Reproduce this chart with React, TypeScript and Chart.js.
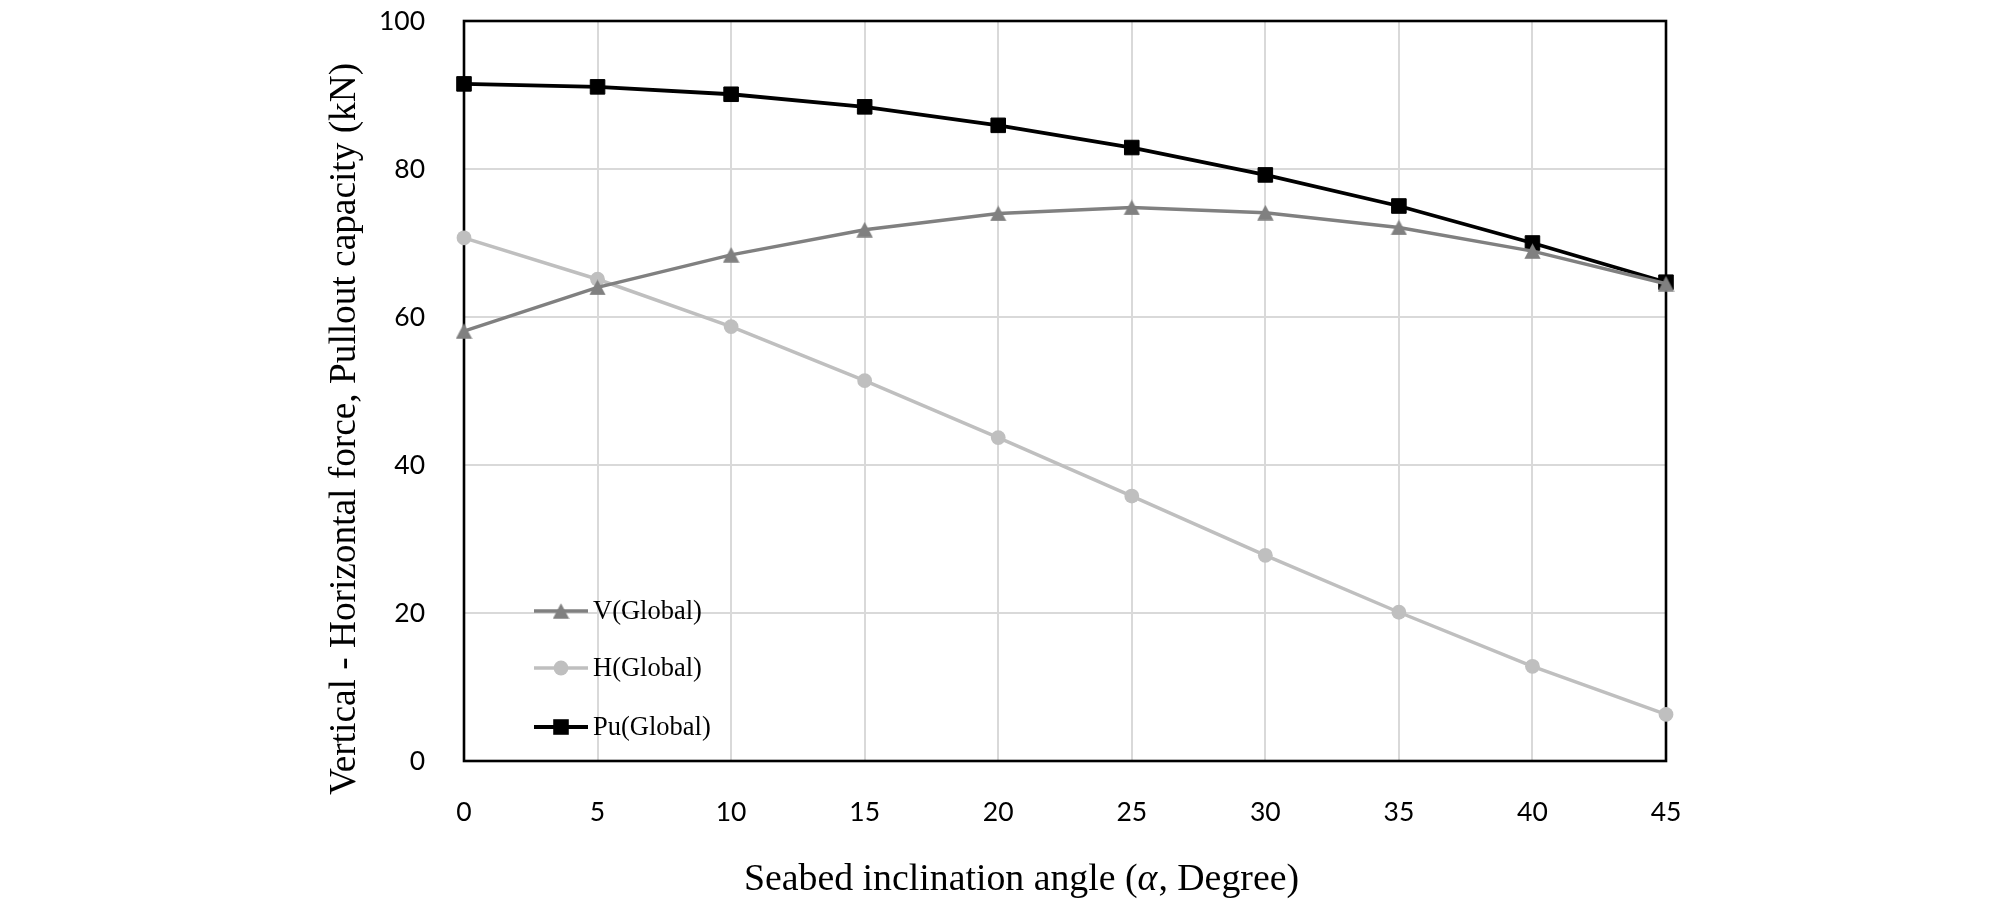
import React, { useEffect, useRef } from 'react';
import { Chart, registerables } from 'chart.js';

Chart.register(...registerables);

// ---- data ----
const angles = [0, 5, 10, 15, 20, 25, 30, 35, 40, 45];
const vGlobal = [58.1, 64.0, 68.4, 71.8, 74.0, 74.8, 74.1, 72.1, 68.9, 64.5];
const hGlobal = [70.7, 65.1, 58.7, 51.4, 43.7, 35.8, 27.8, 20.1, 12.8, 6.3];
const puGlobal = [91.5, 91.1, 90.1, 88.4, 85.9, 82.9, 79.2, 75.0, 70.0, 64.7];
const seriesNames = ['V(Global)', 'H(Global)', 'Pu(Global)'];
const xTickValues = [0, 5, 10, 15, 20, 25, 30, 35, 40, 45];
const yTickValues = [0, 20, 40, 60, 80, 100];
const xTitleParts = ['Seabed inclination angle (', 'α', ', Degree)'];
const yTitleText = 'Vertical - Horizontal force, Pullout capacity (kN)';

const SERIF = "'Liberation Serif', 'Times New Roman', serif";
const SANS = "Lato, 'Open Sans', sans-serif";

function makeTriangle(color: string) {
  const c = document.createElement('canvas');
  c.width = 17;
  c.height = 16;
  const g = c.getContext('2d')!;
  g.fillStyle = color;
  g.beginPath();
  g.moveTo(8.5, 0.3);
  g.lineTo(16.7, 15.7);
  g.lineTo(0.3, 15.7);
  g.closePath();
  g.fill();
  return c;
}

export default function App() {
  const ref = useRef<HTMLCanvasElement | null>(null);

  useEffect(() => {
    if (!ref.current) return;
    const tri = makeTriangle('#808080');

    const toPts = (arr: number[]) => angles.map((a, i) => ({ x: a, y: arr[i] }));

    const framePlugin = {
      id: 'frame',
      beforeDatasetsDraw(chart: any) {
        const { ctx, chartArea: a } = chart;
        ctx.save();
        ctx.strokeStyle = '#000';
        ctx.lineWidth = 2.6;
        ctx.strokeRect(a.left, a.top, a.right - a.left, a.bottom - a.top);
        ctx.restore();
      },
    };

    const titlesPlugin = {
      id: 'titles',
      afterDraw(chart: any) {
        const { ctx, chartArea: a } = chart;
        ctx.save();
        ctx.fillStyle = '#000';
        ctx.textBaseline = 'alphabetic';
        ctx.textAlign = 'left';
        // x title
        let x = a.left + 280;
        const y = a.bottom + 129;
        xTitleParts.forEach((p, i) => {
          ctx.font = (i === 1 ? 'italic ' : '') + '37.8px ' + SERIF;
          ctx.fillText(p, x, y);
          x += ctx.measureText(p).width + (i === 1 ? 1 : 0);
        });
        // y title
        ctx.font = '37.3px ' + SERIF;
        ctx.translate(a.left - 109, (a.top + a.bottom) / 2 + 38);
        ctx.rotate(-Math.PI / 2);
        ctx.textAlign = 'center';
        ctx.fillText(yTitleText, 0, 0);
        ctx.restore();
      },
    };

    const legendPlugin = {
      id: 'innerLegend',
      afterDatasetsDraw(chart: any) {
        const { ctx, chartArea: a } = chart;
        const x0 = a.left + 70;
        const x1 = a.left + 124;
        const tx = a.left + 129;
        const rows = [a.bottom - 150, a.bottom - 93, a.bottom - 34];
        ctx.save();
        chart.data.datasets.forEach((ds: any, i: number) => {
          const yy = rows[i];
          ctx.strokeStyle = ds.borderColor;
          ctx.lineWidth = ds.borderWidth;
          ctx.beginPath();
          ctx.moveTo(x0, yy);
          ctx.lineTo(x1, yy);
          ctx.stroke();
          const cx = (x0 + x1) / 2;
          ctx.fillStyle = ds.pointBackgroundColor;
          if (typeof ds.pointStyle === 'object') {
            ctx.drawImage(ds.pointStyle, cx - ds.pointStyle.width / 2, yy - ds.pointStyle.height / 2);
          } else if (ds.pointStyle === 'circle') {
            ctx.beginPath();
            ctx.arc(cx, yy, ds.pointRadius, 0, Math.PI * 2);
            ctx.fill();
          } else {
            const s = ds.pointRadius * Math.SQRT1_2 + 0.5;
            ctx.fillRect(cx - s, yy - s, 2 * s, 2 * s);
          }
          ctx.fillStyle = '#000';
          ctx.font = '26.5px ' + SERIF;
          ctx.textAlign = 'left';
          ctx.textBaseline = 'middle';
          ctx.fillText(seriesNames[i], tx, yy + 1);
        });
        ctx.restore();
      },
    };

    const chart = new Chart(ref.current, {
      type: 'line',
      data: {
        datasets: [
          {
            label: seriesNames[0],
            data: toPts(vGlobal),
            borderColor: '#808080',
            backgroundColor: '#808080',
            pointBackgroundColor: '#808080',
            borderWidth: 3.5,
            pointStyle: tri as any,
            pointRadius: 8,
            pointBorderWidth: 0,
            tension: 0,
            clip: false as any,
          },
          {
            label: seriesNames[1],
            data: toPts(hGlobal),
            borderColor: '#bfbfbf',
            backgroundColor: '#bfbfbf',
            pointBackgroundColor: '#bfbfbf',
            borderWidth: 3.5,
            pointStyle: 'circle',
            pointRadius: 7.4,
            pointBorderWidth: 0,
            tension: 0,
            clip: false as any,
          },
          {
            label: seriesNames[2],
            data: toPts(puGlobal),
            borderColor: '#000000',
            backgroundColor: '#000000',
            pointBackgroundColor: '#000000',
            pointBorderColor: '#000000',
            borderWidth: 3.8,
            pointStyle: 'rect',
            pointRadius: 10.3,
            pointBorderWidth: 1,
            tension: 0,
            clip: false as any,
          },
        ],
      },
      options: {
        animation: false,
        responsive: false,
        devicePixelRatio: 1,
        layout: { padding: { left: 0, right: 342, top: 21, bottom: 0 } },
        plugins: {
          legend: { display: false },
          tooltip: { enabled: false },
          title: { display: false },
        },
        scales: {
          x: {
            type: 'linear',
            min: 0,
            max: 45,
            afterBuildTicks: (s: any) => {
              s.ticks = xTickValues.map((v) => ({ value: v }));
            },
            afterFit: (s: any) => {
              s.height = 149;
              s.paddingLeft = 0;
              s.paddingRight = 0;
            },
            ticks: {
              padding: 36,
              color: '#000',
              font: { family: SANS, size: 26.5 },
              maxRotation: 0,
              autoSkip: false,
            },
            grid: { color: '#d9d9d9', lineWidth: 2, drawTicks: false },
            border: { display: false },
            title: { display: false },
          },
          y: {
            type: 'linear',
            min: 0,
            max: 100,
            afterBuildTicks: (s: any) => {
              s.ticks = yTickValues.map((v) => ({ value: v }));
            },
            afterFit: (s: any) => {
              s.width = 464;
              s.paddingTop = 0;
              s.paddingBottom = 0;
            },
            ticks: {
              padding: 39,
              color: '#000',
              font: { family: SANS, size: 26.5 },
              autoSkip: false,
            },
            grid: { color: '#d9d9d9', lineWidth: 2, drawTicks: false },
            border: { display: false },
            title: { display: false },
          },
        },
      },
      plugins: [framePlugin, legendPlugin, titlesPlugin],
    });

    return () => chart.destroy();
  }, []);

  return (
    <div style={{ position: 'absolute', left: 0, top: 0, width: 2008, height: 910, background: '#fff' }}>
      <canvas ref={ref} width={2008} height={910} style={{ display: 'block', width: 2008, height: 910 }} />
    </div>
  );
}
